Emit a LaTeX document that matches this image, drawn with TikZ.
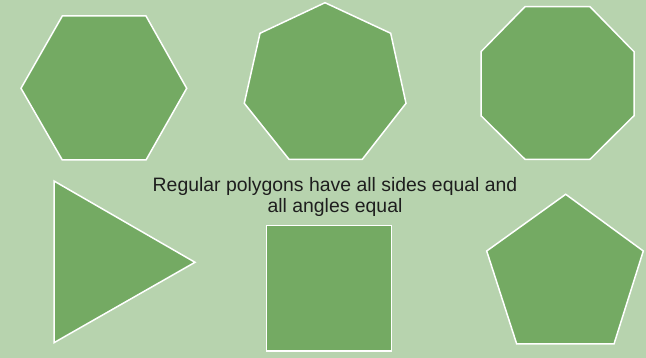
\documentclass[tikz,border=0pt]{standalone}
\usepackage{fontspec}
\setmainfont{Liberation Sans}
\definecolor{bgc}{HTML}{B7D3AE}
\definecolor{polyc}{HTML}{74AA63}
\definecolor{txtc}{HTML}{1E1E1E}
\begin{document}
\begin{tikzpicture}[x=1pt,y=-1pt,
  poly/.style={fill=polyc,draw=white,line width=1.5pt,line join=miter},
  caption/.style={anchor=base,inner sep=0pt,text=txtc,font=\fontsize{19.4}{21}\selectfont}]
\fill[bgc] (0,0) rectangle (646,358);
\useasboundingbox (0,0) rectangle (646,358);
% hexagon
\draw[poly] (62.3,16) -- (146,16) -- (186.7,88.3) -- (146,160) -- (62.3,160) -- (21,88.3) -- cycle;
% heptagon
\draw[poly] (325,2.7) -- (390.7,33.3) -- (406,103.3) -- (362.3,159.3) -- (289,159.3) -- (244.3,103.3) -- (260,33.3) -- cycle;
% octagon
\draw[poly] (525,6.7) -- (590,6.7) -- (634,51.7) -- (634,115.7) -- (590,159.3) -- (525,159.3) -- (481,115.7) -- (481,51.7) -- cycle;
% triangle
\draw[poly] (54,181) -- (195,262.3) -- (54,342.7) -- cycle;
% square
\draw[poly] (266.7,225.7) rectangle (391.7,351);
% pentagon
\draw[poly] (565.7,194.3) -- (643.3,251) -- (614,344) -- (516.7,344) -- (486.7,251) -- cycle;
% text
\node[caption] (l1) at (335,191.5) {Regular polygons have all sides equal and};
\node[caption] (l2) at (335,212.5) {all angles equal};
\end{tikzpicture}
\end{document}
